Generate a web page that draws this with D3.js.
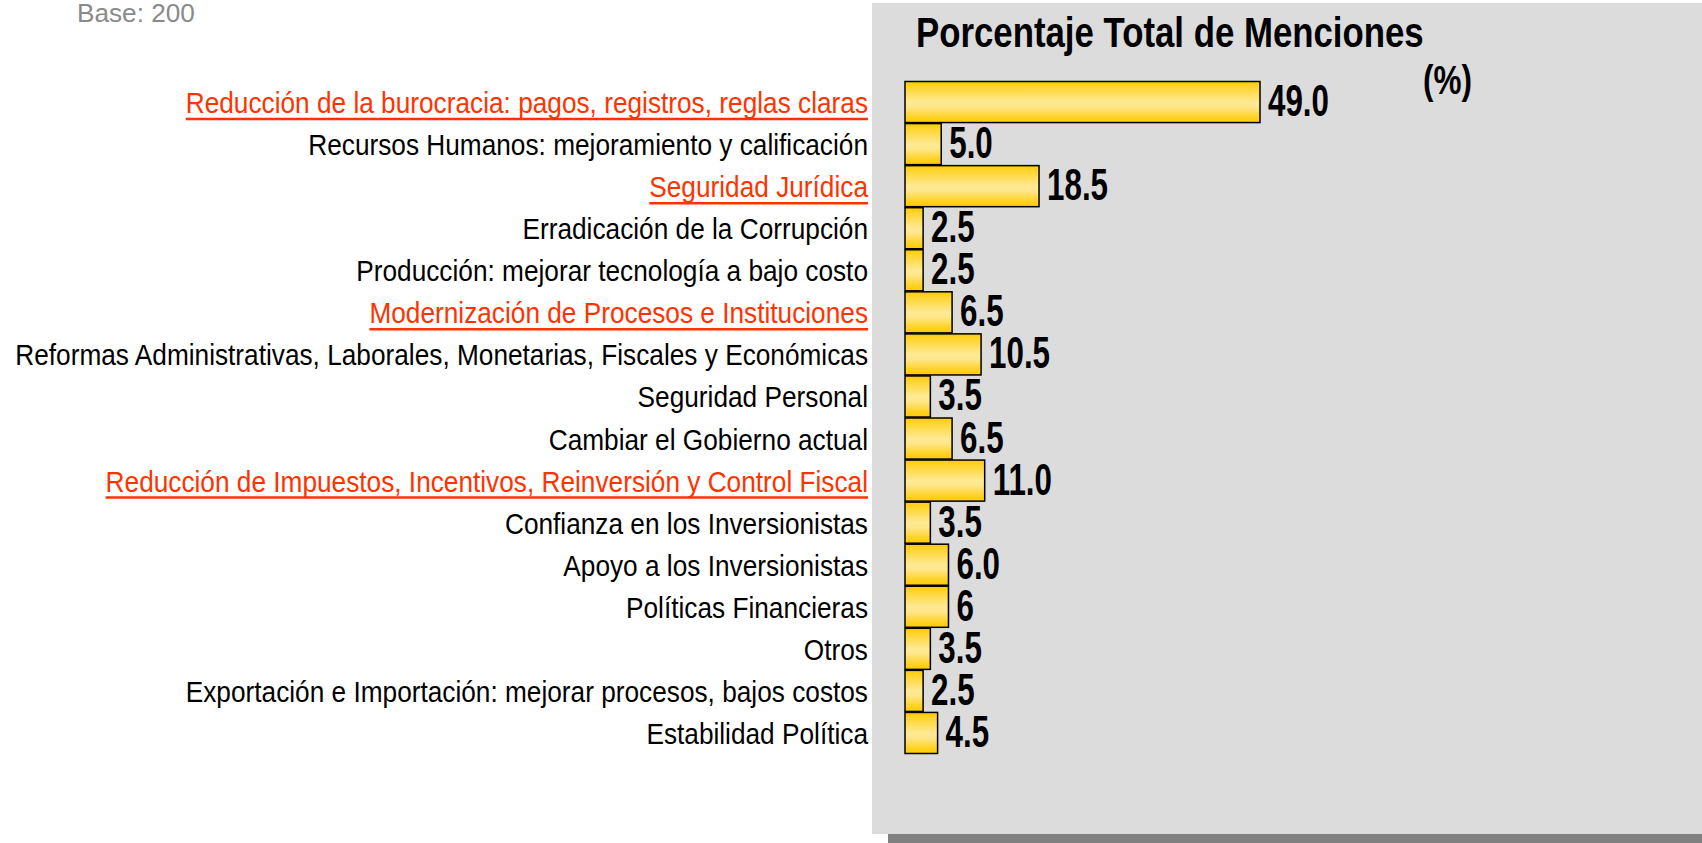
<!DOCTYPE html>
<html>
<head>
<meta charset="utf-8">
<script src="https://cdn.jsdelivr.net/npm/d3@7"></script>
<style>
  html, body { margin: 0; padding: 0; background: #fff; overflow: hidden; }
  svg { display: block; }
</style>
</head>
<body>
<svg width="1702" height="843"></svg>
<script>
const categories = [
  "Reducción de la burocracia: pagos, registros, reglas claras",
  "Recursos Humanos: mejoramiento y calificación",
  "Seguridad Jurídica",
  "Erradicación de la Corrupción",
  "Producción: mejorar tecnología a bajo costo",
  "Modernización de Procesos e Instituciones",
  "Reformas Administrativas, Laborales, Monetarias, Fiscales y Económicas",
  "Seguridad Personal",
  "Cambiar el Gobierno actual",
  "Reducción de Impuestos, Incentivos, Reinversión y Control Fiscal",
  "Confianza en los Inversionistas",
  "Apoyo a los Inversionistas",
  "Políticas Financieras",
  "Otros",
  "Exportación e Importación: mejorar procesos, bajos costos",
  "Estabilidad Política"
];
const values = [49.0, 5.0, 18.5, 2.5, 2.5, 6.5, 10.5, 3.5, 6.5, 11.0, 3.5, 6.0, 6, 3.5, 2.5, 4.5];
const valueLabels = ["49.0", "5.0", "18.5", "2.5", "2.5", "6.5", "10.5", "3.5", "6.5", "11.0", "3.5", "6.0", "6", "3.5", "2.5", "4.5"];
const highlighted = [
  "Reducción de la burocracia: pagos, registros, reglas claras",
  "Seguridad Jurídica",
  "Modernización de Procesos e Instituciones",
  "Reducción de Impuestos, Incentivos, Reinversión y Control Fiscal"
];
const title = "Porcentaje Total de Menciones";
const unitLabel = "(%)";
const baseNote = "Base: 200";

const narrow = "'Liberation Sans Narrow', 'Arial Narrow', 'Liberation Sans', Arial, sans-serif";
const red = "#ff3300";

const svg = d3.select("svg");

// grey panel with darker strip underneath
svg.append("rect")
  .attr("x", 888).attr("y", 826).attr("width", 814).attr("height", 17)
  .attr("fill", "#808080");
svg.append("rect")
  .attr("x", 872).attr("y", 3).attr("width", 830).attr("height", 831)
  .attr("fill", "#dcdcdc");

// bar gradient
const grad = svg.append("defs").append("linearGradient")
  .attr("id", "gold").attr("x1", 0).attr("x2", 0).attr("y1", 0).attr("y2", 1);
[[0, "#ffcc00"], [0.12, "#ffd42a"], [0.5, "#ffe994"], [0.62, "#ffe68a"], [0.88, "#ffd120"], [1, "#ffcc00"]]
  .forEach(([o, c]) => grad.append("stop").attr("offset", o).attr("stop-color", c));

const x = d3.scaleLinear().domain([0, 49]).range([905, 1260]);
const y = d3.scaleBand().domain(categories).range([81, 754]).padding(0);

// fit a text element horizontally to a target width
function squeeze(sel, anchorX, targetWidth) {
  const w = sel.node().getComputedTextLength();
  const k = targetWidth / w;
  sel.attr("transform", `translate(${anchorX},0) scale(${k},1) translate(${-anchorX},0)`);
  return k;
}

// category labels
const labels = svg.append("g").selectAll("text")
  .data(categories)
  .join("text")
  .attr("x", 868)
  .attr("y", d => y(d) + y.bandwidth() / 2 + 11)
  .attr("text-anchor", "end")
  .attr("font-family", narrow)
  .attr("font-size", 30)
  .attr("fill", d => highlighted.includes(d) ? red : "#000")
  .text(d => d);

// one common squeeze factor taken from the longest label
const longest = labels.filter(d => d.startsWith("Reformas"));
const kLabel = 853 / longest.node().getComputedTextLength();
labels.attr("transform", `translate(868,0) scale(${kLabel},1) translate(-868,0)`);

// underline the highlighted labels
labels.filter(d => highlighted.includes(d)).each(function (d) {
  const w = this.getComputedTextLength() * kLabel;
  svg.append("line")
    .attr("x1", 868 - w).attr("x2", 868)
    .attr("y1", y(d) + y.bandwidth() / 2 + 17)
    .attr("y2", y(d) + y.bandwidth() / 2 + 17)
    .attr("stroke", red).attr("stroke-width", 2.5);
});

// bars
svg.append("g").selectAll("rect")
  .data(values)
  .join("rect")
  .attr("x", x(0))
  .attr("y", (d, i) => y(categories[i]) + 0.5)
  .attr("width", d => x(d) - x(0))
  .attr("height", y.bandwidth() - 1)
  .attr("fill", "url(#gold)")
  .attr("stroke", "#000")
  .attr("stroke-width", 1.5);

// value labels
const vals = svg.append("g").selectAll("text")
  .data(values)
  .join("text")
  .attr("x", d => x(d) + 8)
  .attr("y", (d, i) => y(categories[i]) + y.bandwidth() / 2 + 14)
  .attr("font-family", narrow)
  .attr("font-weight", "bold")
  .attr("font-size", 44)
  .attr("fill", "#000")
  .text((d, i) => valueLabels[i]);

const kVal = 61 / vals.filter((d, i) => i === 0).node().getComputedTextLength();
vals.attr("transform", d => `translate(${x(d) + 8},0) scale(${kVal},1) translate(${-(x(d) + 8)},0)`);

// title and unit
const t = svg.append("text")
  .attr("x", 916).attr("y", 47)
  .attr("font-family", narrow)
  .attr("font-weight", "bold")
  .attr("font-size", 42)
  .attr("fill", "#000")
  .text(title);
squeeze(t, 916, 508);

const u = svg.append("text")
  .attr("x", 1423).attr("y", 94)
  .attr("font-family", narrow)
  .attr("font-weight", "bold")
  .attr("font-size", 41)
  .attr("fill", "#000")
  .text(unitLabel);
squeeze(u, 1423, 49);

const b = svg.append("text")
  .attr("x", 77).attr("y", 22)
  .attr("font-family", narrow)
  .attr("font-size", 25)
  .attr("fill", "#8a8a8a")
  .text(baseNote);
squeeze(b, 77, 118);
</script>
</body>
</html>
